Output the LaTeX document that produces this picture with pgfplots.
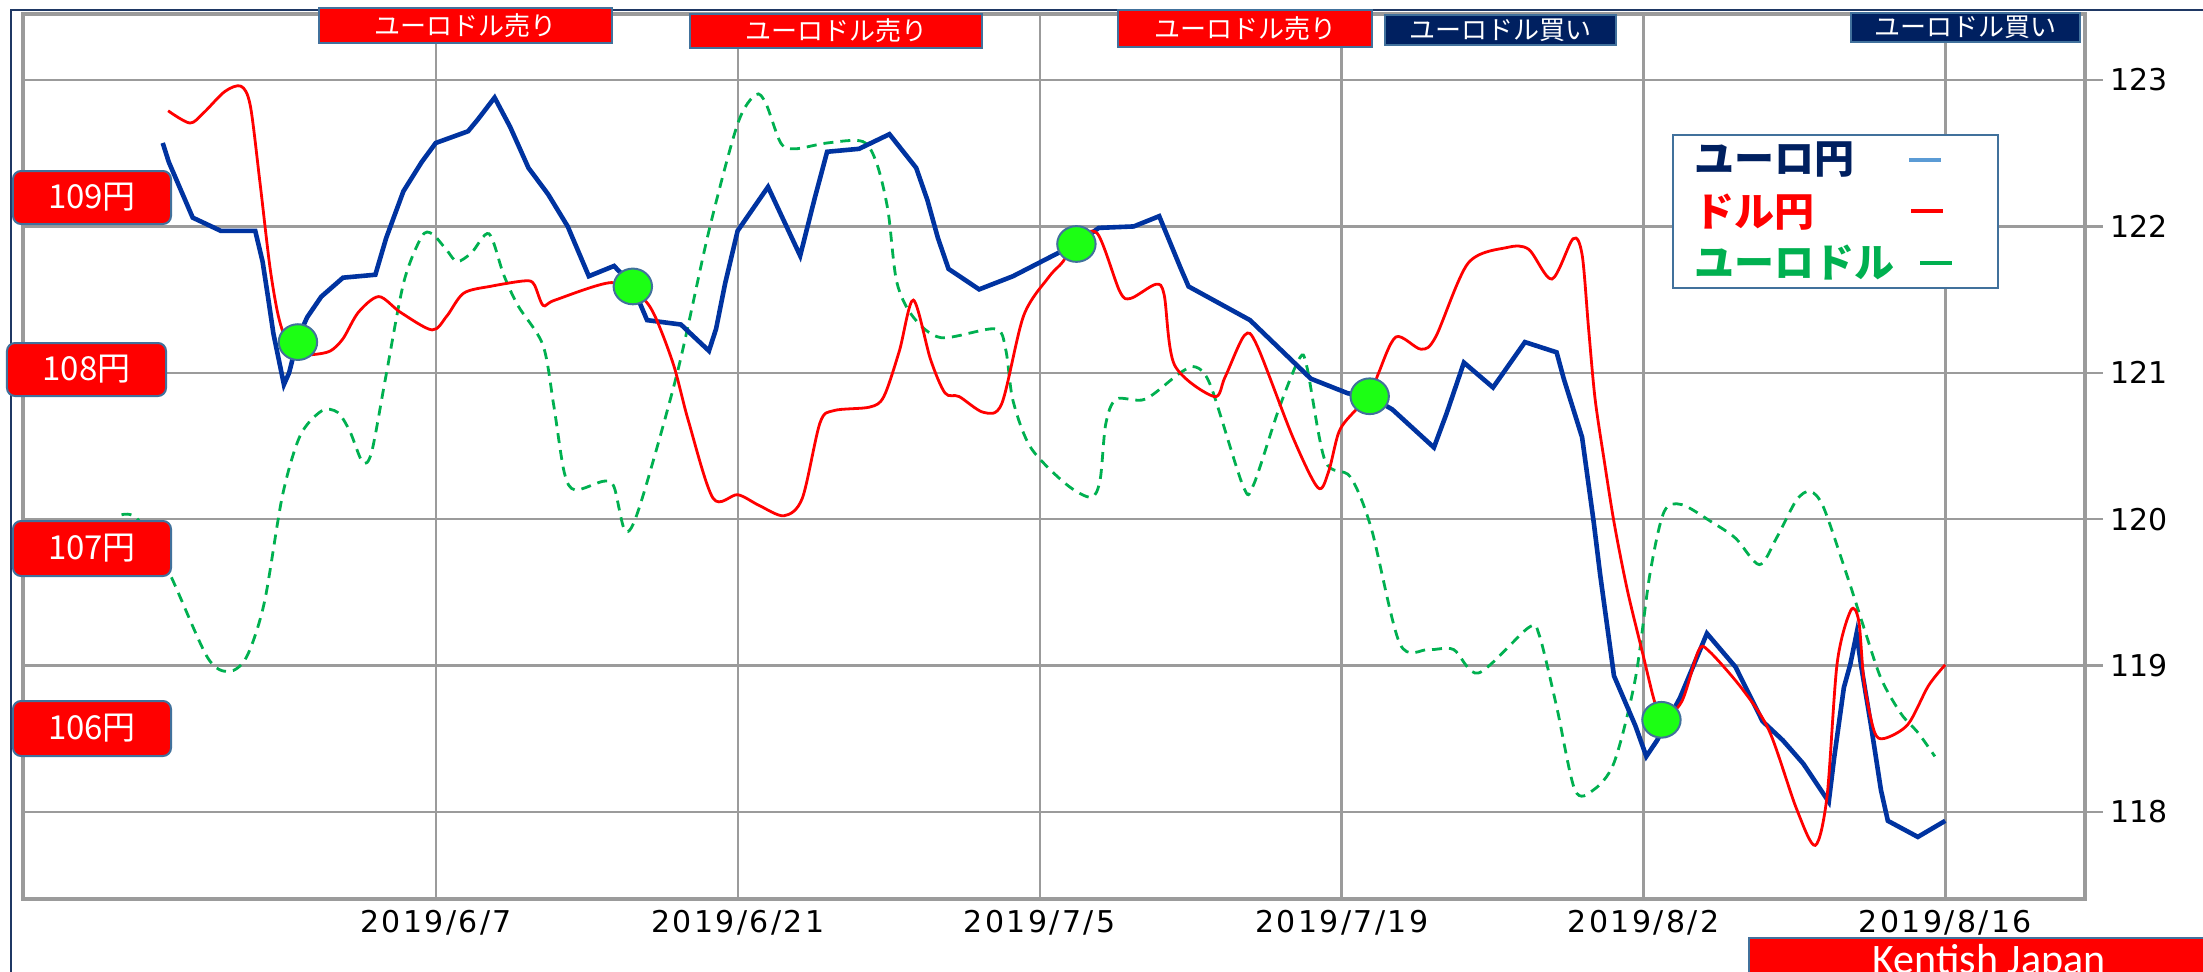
\documentclass[border=0pt]{standalone}
\usepackage{fontspec}
\usepackage{pgfplots}
\usepackage{pgfplotstable}
\pgfplotsset{compat=1.18}
\newfontfamily\jp{Noto Sans CJK JP}
\newfontfamily\dv{DejaVu Sans}
\newfontfamily\dvx{DejaVu Sans}[LetterSpace=8]
\newfontfamily\carl{Carlito}
\definecolor{gridgray}{RGB}{155,155,155}
\definecolor{steel}{RGB}{65,113,156}
\definecolor{navybox}{RGB}{0,32,96}
\definecolor{ejcol}{RGB}{0,51,160}
\definecolor{ujcol}{RGB}{255,0,0}
\definecolor{eucol}{RGB}{0,176,80}
\definecolor{dotgreen}{RGB}{28,255,20}
\definecolor{legblue}{RGB}{91,155,213}
\definecolor{framenavy}{RGB}{31,56,100}

% day 0 = 2019/6/7 ; EUR/JPY (right axis)
\pgfplotstableread{
x y
-12.67 122.57
-12.39 122.44
-11.28 122.06
-9.98 121.97
-8.38 121.97
-8.04 121.76
-7.79 121.52
-7.54 121.27
-7.05 120.92
-6.81 121.00
-6.40 121.24
-5.97 121.38
-5.32 121.52
-4.31 121.65
-2.81 121.67
-2.31 121.92
-1.51 122.24
-0.66 122.44
-0.01 122.57
1.49 122.65
1.94 122.73
2.72 122.88
3.44 122.68
4.29 122.40
5.20 122.22
6.11 122.00
7.09 121.66
8.26 121.73
9.10 121.60
9.79 121.36
11.36 121.33
12.66 121.15
12.99 121.30
13.41 121.61
13.99 121.97
15.40 122.27
16.89 121.80
17.56 122.19
18.14 122.51
19.62 122.53
21.03 122.63
22.27 122.40
22.79 122.18
23.28 121.92
23.77 121.71
25.19 121.57
26.76 121.66
28.74 121.81
29.69 121.88
30.74 121.99
32.36 122.00
33.54 122.07
34.52 121.72
34.90 121.59
37.75 121.36
40.57 120.96
42.29 120.86
43.30 120.84
44.35 120.75
46.28 120.49
46.86 120.72
47.67 121.07
49.02 120.90
50.50 121.21
51.97 121.14
52.30 120.96
53.15 120.56
53.69 119.98
53.99 119.62
54.63 118.93
55.62 118.59
56.13 118.38
56.63 118.49
57.69 118.78
58.94 119.22
60.27 118.99
61.52 118.62
62.46 118.49
63.41 118.33
64.59 118.07
64.83 118.36
65.29 118.85
65.59 119.01
65.88 119.22
66.08 119.01
66.55 118.59
67.01 118.15
67.33 117.94
68.72 117.83
69.99 117.94
}\tabEJ

% USD/JPY (left boxes scale)
\pgfplotstableread{
x y
-12.42 109.49
-11.41 109.42
-10.76 109.48
-9.79 109.60
-9.04 109.63
-8.61 109.52
-8.16 109.08
-7.70 108.60
-7.31 108.32
-6.88 108.16
-6.40 108.10
-5.65 108.10
-4.90 108.12
-4.31 108.19
-3.60 108.34
-2.65 108.43
-1.64 108.34
-0.18 108.24
0.51 108.32
1.29 108.45
2.59 108.49
4.14 108.52
4.55 108.50
4.97 108.38
5.52 108.41
8.13 108.51
9.50 108.43
10.15 108.32
11.02 108.04
11.71 107.72
12.85 107.28
13.99 107.30
14.97 107.24
16.14 107.18
16.99 107.28
17.81 107.71
18.46 107.78
20.12 107.80
20.77 107.86
21.49 108.12
22.14 108.41
22.94 108.07
23.61 107.88
24.26 107.86
25.39 107.77
26.24 107.82
27.25 108.32
28.41 108.54
29.08 108.63
29.69 108.75
30.67 108.79
31.71 108.46
32.22 108.42
33.38 108.50
33.77 108.44
34.25 108.04
36.08 107.86
36.59 107.97
37.50 108.21
38.08 108.15
39.73 107.63
40.90 107.34
41.39 107.43
41.88 107.66
42.55 107.77
43.31 107.86
43.70 107.99
44.52 108.20
45.68 108.13
46.36 108.20
47.86 108.62
49.67 108.71
50.67 108.70
51.75 108.53
52.73 108.76
53.15 108.67
53.45 108.25
53.75 107.85
54.17 107.50
54.65 107.13
55.26 106.75
55.97 106.39
56.51 106.12
56.86 106.02
57.77 106.12
58.55 106.41
59.02 106.41
60.59 106.19
61.84 105.95
63.09 105.51
63.96 105.30
64.51 105.58
64.98 106.34
65.61 106.64
65.98 106.58
66.23 106.23
66.70 105.95
67.17 105.91
68.26 105.99
69.21 106.21
69.99 106.33
}\tabUJ

% EUR/USD, drawn on the EUR/JPY scale (no own axis shown)
\pgfplotstableread{
x y
-14.58 120.03
-13.83 120.00
-12.42 119.65
-10.61 119.06
-9.61 118.96
-8.78 119.06
-7.96 119.43
-7.12 120.16
-6.30 120.57
-5.30 120.74
-4.56 120.73
-3.99 120.60
-3.40 120.39
-2.98 120.46
-2.33 120.97
-1.49 121.62
-0.66 121.93
-0.18 121.95
0.49 121.84
0.98 121.76
1.65 121.82
2.46 121.95
3.14 121.67
3.80 121.46
4.96 121.19
5.46 120.78
5.95 120.32
6.45 120.20
7.78 120.26
8.26 120.22
8.78 119.92
9.43 120.08
11.19 121.00
12.66 121.97
13.99 122.70
14.83 122.90
15.30 122.84
15.99 122.57
16.65 122.53
18.14 122.57
19.79 122.58
20.44 122.43
20.96 122.11
21.37 121.62
22.14 121.38
23.43 121.24
25.92 121.30
26.42 121.16
26.76 120.81
27.58 120.49
29.22 120.24
30.38 120.15
30.80 120.27
31.06 120.65
31.55 120.82
32.89 120.82
34.51 121.00
35.23 121.04
35.93 120.91
37.42 120.23
37.90 120.23
39.08 120.75
40.05 121.10
40.39 121.04
41.23 120.40
42.40 120.29
43.37 119.94
44.70 119.15
46.03 119.11
47.19 119.11
48.35 118.95
50.67 119.26
51.16 119.21
51.97 118.72
52.82 118.15
53.67 118.15
54.64 118.34
55.62 118.91
56.29 119.62
56.95 120.05
57.77 120.10
59.17 119.98
60.27 119.87
61.37 119.69
62.16 119.87
63.09 120.13
63.73 120.19
64.35 120.08
65.45 119.61
66.24 119.25
67.02 118.91
67.95 118.67
68.74 118.54
69.51 118.38
}\tabEU

% signal points (EUR/JPY scale)
\pgfplotstableread{
x y
-6.40 121.21
9.13 121.59
29.70 121.88
43.30 120.84
56.83 118.63
}\tabDots

\pgfplotsset{base/.style={width=1031pt,height=442.5pt,scale only axis,
  xmin=-19.15,xmax=76.47,at={(0pt,0pt)},anchor=south west}}

\begin{document}
\begin{tikzpicture}
\useasboundingbox (-11.5pt,-36pt) rectangle (1090pt,449.5pt);

\begin{axis}[base, ymin=117.406, ymax=123.451,
  xtick={0,14,28,42,56,70},
  xticklabels={2019/6/7,2019/6/21,2019/7/5,2019/7/19,2019/8/2,2019/8/16},
  ytick={118,119,120,121,122,123},
  grid=major,
  major grid style={draw=gridgray,line width=1.2pt},
  axis line style={draw=gridgray,line width=1.8pt},
  ytick pos=right, yticklabel pos=right,
  xtick style={draw=none},
  ytick style={draw=gridgray,line width=1.2pt},
  tick align=outside,
  major tick length=9pt,
  yticklabel style={font=\dv\fontsize{15}{15}\selectfont, text=black},
  xticklabel style={font=\dvx\fontsize{15}{15}\selectfont, text=black, yshift=7pt},
  /pgf/number format/assume math mode=true,
]
\addplot[eucol, line width=1.4pt, dash pattern=on 5pt off 3.5pt, smooth] table {\tabEU};
\addplot[ejcol, line width=2.3pt, line join=miter] table {\tabEJ};
\end{axis}

\begin{axis}[base, ymin=104.994, ymax=110.042, hide axis]
\addplot[ujcol, line width=1.4pt, smooth] table {\tabUJ};
\end{axis}

\begin{axis}[base, ymin=117.406, ymax=123.451, hide axis]
\addplot[only marks, mark=*, mark size=9.6pt,
  mark options={fill=dotgreen, draw=steel, line width=1pt, yscale=0.93}] table {\tabDots};
\end{axis}

\begin{scope}[shift={(-11.5pt,449.5pt)}, x=0.5pt, y=-0.5pt]
% outer frame
\draw[framenavy, line width=1pt] (11,975) -- (11,10) -- (2210,10);
% top signal boxes
\tikzset{sig/.style={text=white, font=\jp\fontsize{13}{13}\selectfont, inner sep=0pt}}
\filldraw[fill=red, draw=steel, line width=1pt] (319,8) rectangle (612,43);
\node[sig] at (465.5,25.5) {ユーロドル売り};
\filldraw[fill=red, draw=steel, line width=1pt] (690,14) rectangle (982,48);
\node[sig] at (836,31) {ユーロドル売り};
\filldraw[fill=red, draw=steel, line width=1pt] (1118,10) rectangle (1372,47);
\node[sig] at (1245,28.5) {ユーロドル売り};
\filldraw[fill=navybox, draw=steel, line width=1pt] (1385,15) rectangle (1616,45);
\node[sig] at (1500.5,30) {ユーロドル買い};
\filldraw[fill=navybox, draw=steel, line width=1pt] (1851,13) rectangle (2080,42);
\node[sig] at (1965.5,27.5) {ユーロドル買い};
% left USD/JPY level boxes
\tikzset{lvl/.style={text=white, font=\jp\fontsize{16.5}{16.5}\selectfont, inner sep=0pt}}
\filldraw[fill=red, draw=steel, line width=1pt, rounded corners=4pt] (13,171) rectangle (171,224);
\node[lvl] at (92,197.5) {109円};
\filldraw[fill=red, draw=steel, line width=1pt, rounded corners=4pt] (7,343) rectangle (166,396);
\node[lvl] at (86.5,369.5) {108円};
\filldraw[fill=red, draw=steel, line width=1pt, rounded corners=4pt] (13,521) rectangle (171,576);
\node[lvl] at (92,548.5) {107円};
\filldraw[fill=red, draw=steel, line width=1pt, rounded corners=4pt] (13,701) rectangle (171,756);
\node[lvl] at (92,728.5) {106円};
% legend
\filldraw[fill=white, draw=steel, line width=1pt] (1673,135) rectangle (1998,288);
\tikzset{leg/.style={anchor=west, inner sep=0pt, font=\jp\bfseries\fontsize{20}{20}\selectfont}}
\node[leg, text=navybox] at (1694,160) {ユーロ円};
\node[leg, text=red] at (1694,212) {ドル円};
\node[leg, text=eucol] at (1694,263) {ユーロドル};
\draw[legblue, line width=1.8pt] (1909,160) -- (1941,160);
\draw[red, line width=1.8pt] (1911,211) -- (1943,211);
\draw[eucol, line width=1.8pt] (1920,263) -- (1952,263);
% credit box
\fill[red] (1749,938) rectangle (2215,985);
\draw[steel, line width=1.2pt] (1749,985) -- (1749,938) -- (2215,938);
\node[anchor=base, inner sep=0pt, text=white, font=\carl\fontsize{21}{21}\selectfont] at (1989,973) {Kentish Japan};
\end{scope}
\end{tikzpicture}
\end{document}
